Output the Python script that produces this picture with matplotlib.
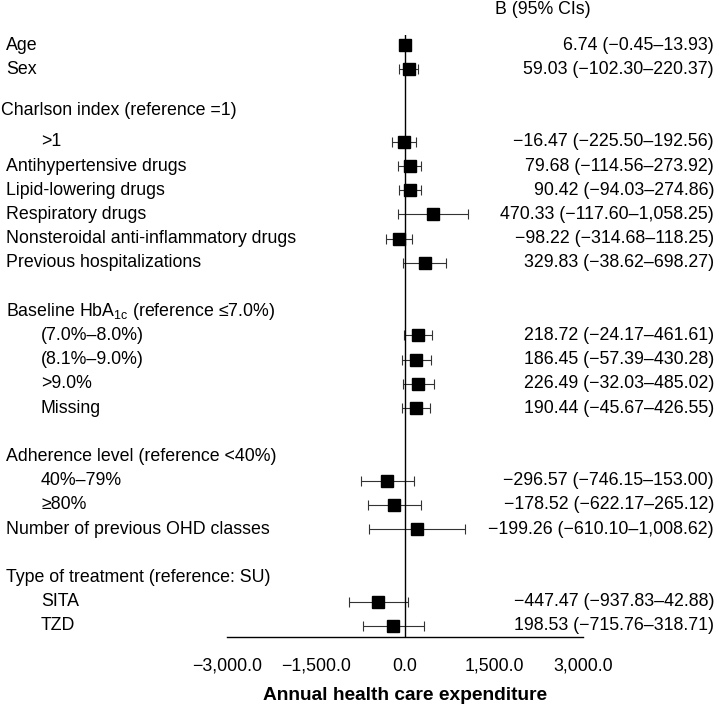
import numpy as np
import matplotlib
matplotlib.use("Agg")
import matplotlib.pyplot as plt
from matplotlib.transforms import blended_transform_factory

plt.rcParams['font.family'] = ['Liberation Sans', 'DejaVu Sans']
plt.rcParams['mathtext.default'] = 'regular'

nan = np.nan

# rows of the forest plot ('' = blank row)
labels = ["Age", "Sex", "",
          "Charlson index (reference =1)", ">1",
          "Antihypertensive drugs", "Lipid-lowering drugs", "Respiratory drugs",
          "Nonsteroidal anti-inflammatory drugs", "Previous hospitalizations", "",
          "Baseline HbA$_{1c}$ (reference \u22647.0%)",
          "(7.0%\u20138.0%)", "(8.1%\u20139.0%)", ">9.0%", "Missing", "",
          "Adherence level (reference <40%)", "40%\u201379%", "\u226580%",
          "Number of previous OHD classes", "",
          "Type of treatment (reference: SU)", "SITA", "TZD"]
indent = [0, 0, 0, -1, 1, 0, 0, 0, 0, 0, 0, 0, 1, 1, 1, 1, 0, 0, 1, 1, 0, 0, 0, 1, 1]

# plotted estimate and 95% CI
est = [6.74, 59.03, nan, nan, -16.47, 79.68, 90.42, 470.33, -98.22, 329.83, nan,
       nan, 218.72, 186.45, 226.49, 190.44, nan,
       nan, -296.57, -178.52, 199.26, nan, nan, -447.47, -198.53]
lo = [-0.45, -102.30, nan, nan, -225.50, -114.56, -94.03, -117.60, -314.68, -38.62, nan,
      nan, -24.17, -57.39, -32.03, -45.67, nan,
      nan, -746.15, -622.17, -610.10, nan, nan, -937.83, -715.76]
hi = [13.93, 220.37, nan, nan, 192.56, 273.92, 274.86, 1058.25, 118.25, 698.27, nan,
      nan, 461.61, 430.28, 485.02, 426.55, nan,
      nan, 153.00, 265.12, 1008.62, nan, nan, 42.88, 318.71]

ci_text = ["6.74 (\u22120.45\u201313.93)", "59.03 (\u2212102.30\u2013220.37)", "", "",
           "\u221216.47 (\u2212225.50\u2013192.56)", "79.68 (\u2212114.56\u2013273.92)",
           "90.42 (\u221294.03\u2013274.86)", "470.33 (\u2212117.60\u20131,058.25)",
           "\u221298.22 (\u2212314.68\u2013118.25)", "329.83 (\u221238.62\u2013698.27)", "", "",
           "218.72 (\u221224.17\u2013461.61)", "186.45 (\u221257.39\u2013430.28)",
           "226.49 (\u221232.03\u2013485.02)", "190.44 (\u221245.67\u2013426.55)", "", "",
           "\u2212296.57 (\u2212746.15\u2013153.00)", "\u2212178.52 (\u2212622.17\u2013265.12)",
           "\u2212199.26 (\u2212610.10\u20131,008.62)", "", "",
           "\u2212447.47 (\u2212937.83\u201342.88)", "198.53 (\u2212715.76\u2013318.71)"]

xticks = [-3000, -1500, 0, 1500, 3000]
xtick_labels = ["\u22123,000.0", "\u22121,500.0", "0.0", "1,500.0", "3,000.0"]

W, H = 716, 707
fig = plt.figure(figsize=(W / 100, H / 100), dpi=100)
ax = fig.add_axes([227 / W, 1 - 637 / H, 356 / W, (637 - 35) / H])

est = np.array(est)
lo = np.array(lo)
hi = np.array(hi)
rows = np.arange(len(labels))
ok = ~np.isnan(est)

ax.errorbar(est[ok], rows[ok], xerr=[est[ok] - lo[ok], hi[ok] - est[ok]],
            fmt='s', color='black', ms=8, ecolor='#333333', elinewidth=0.8,
            capsize=3.8, capthick=0.8)
ax.axvline(0, color='black', lw=1.0)

ax.set_xlim(-3000, 3000)
ax.set_ylim((637 - 45) / 24.2, (35 - 45) / 24.2)
ax.set_yticks([])
ax.set_xticks(xticks)
ax.set_xticklabels(xtick_labels, fontsize=12.8)
ax.tick_params(axis='x', length=0, pad=15)
for s in ['left', 'right', 'top']:
    ax.spines[s].set_visible(False)
ax.spines['bottom'].set_linewidth(1.0)
ax.set_xlabel("Annual health care expenditure", fontsize=13.8, fontweight='bold', labelpad=9)

tr = blended_transform_factory(fig.transFigure, ax.transData)
xpos = {-1: 1, 0: 6, 1: 41}
for i, lab in enumerate(labels):
    y = i - 0.28 if indent[i] == -1 else i   # Charlson header sits a little higher
    if lab:
        ax.text(xpos[indent[i]] / W, y, lab, transform=tr, ha='left', va='center',
                fontsize=12.8, clip_on=False)
    if ci_text[i]:
        ax.text(714 / W, i, ci_text[i], transform=tr, ha='right', va='center',
                fontsize=12.8, clip_on=False)

fig.text(495 / W, 1 - 10 / H, "B (95% CIs)", ha='left', va='center', fontsize=12.8)

fig.savefig("out.png", dpi=100)
